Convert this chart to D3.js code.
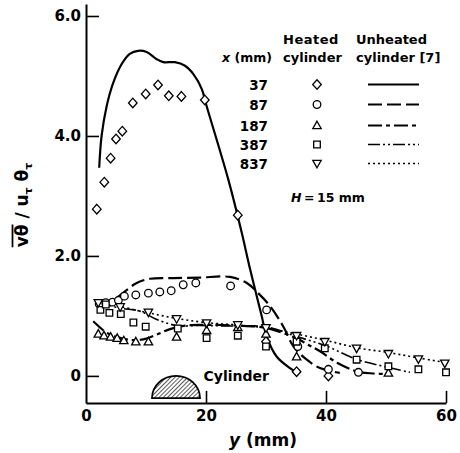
<!DOCTYPE html>
<html><head><meta charset="utf-8">
<script src="https://cdn.jsdelivr.net/npm/d3@7"></script>
<style>
body{margin:0;background:#fff}
svg{display:block}
text{font-family:"DejaVu Sans",sans-serif;font-weight:bold;fill:#000}
</style>
</head><body><svg id="c" width="460" height="453"></svg>
<script>
// ---- data ----
const xTicks = [0, 20, 40, 60];
const xTickLabels = ["0", "20", "40", "60"];
const yTicks = [0, 2, 4, 6];
const yTickLabels = ["0", "2.0", "4.0", "6.0"];
const stations = ["37", "87", "187", "387", "837"];

// heated cylinder (symbols)  [y (mm), value]
const heated37 = [[1.8,2.78],[3.05,3.23],[4.1,3.63],[5.0,3.95],[6.05,4.08],[7.8,4.55],[9.95,4.70],[12.0,4.85],[13.8,4.67],[15.9,4.66],[19.8,4.60],[25.3,2.68],[30.0,0.57],[35.1,0.07],[40.4,0.0]];
const heated87 = [[2.2,1.20],[3.3,1.22],[4.4,1.23],[5.4,1.26],[6.4,1.33],[8.3,1.35],[10.4,1.38],[12.3,1.40],[14.2,1.42],[16.2,1.52],[18.3,1.55],[24.1,1.50],[30.1,1.10],[35.3,0.49],[40.4,0.11],[45.4,0.06]];
const heated187 = [[2.05,0.70],[3.0,0.67],[4.1,0.65],[5.2,0.63],[6.3,0.59],[8.3,0.57],[10.4,0.57],[15.1,0.65],[20.1,0.76],[25.3,0.81],[30.0,0.70],[35.1,0.32],[50.4,0.05]];
const heated387 = [[2.4,1.10],[3.3,1.19],[3.9,1.05],[5.8,1.03],[7.9,0.89],[9.95,0.82],[15.3,0.79],[20.1,0.63],[25.3,0.67],[30.0,0.49],[35.1,0.57],[39.8,0.46],[45.1,0.27],[50.4,0.16],[55.4,0.11],[60.0,0.06]];
const heated837 = [[2.05,1.22],[5.7,1.15],[10.4,1.06],[15.1,0.95],[20.1,0.88],[25.3,0.85],[30.0,0.80],[35.1,0.67],[39.8,0.57],[45.1,0.46],[50.4,0.37],[55.4,0.28],[59.8,0.21]];

// unheated cylinder [7] (curves)
const unheated37 = [[2.2,3.47],[2.6,4.0],[3.45,4.5],[4.55,4.89],[5.95,5.20],[7.3,5.37],[8.7,5.42],[10.1,5.40],[11.8,5.28],[12.9,5.23],[14.8,5.23],[16.5,5.17],[17.9,5.03],[19.3,4.78],[20.1,4.50],[23.7,3.28],[25.95,2.39],[27.3,1.80],[29.3,0.99],[30.1,0.66],[31.8,0.32],[34.0,0.13],[35.1,0.06]];
const unheated87 = [[2.2,1.19],[4.55,1.27],[6.5,1.41],[8.45,1.55],[10.7,1.62],[14.6,1.63],[19,1.64],[24,1.65],[26.8,1.55],[28.7,1.38],[30.7,1.16],[32.9,0.82],[34.6,0.49],[36.8,0.27],[39,0.13],[42.3,0.05]];
const unheated187 = [[1.2,0.91],[2.3,0.81],[3.45,0.72],[5.1,0.65],[7.3,0.60],[9.55,0.61],[11.8,0.69],[14,0.78],[16.8,0.84],[19.6,0.85],[25,0.84],[30,0.80],[35,0.63],[37,0.52],[39,0.41],[42,0.21],[45.3,0.07],[48,0.04],[50.5,0.03]];
const unheated387 = [[2.3,1.22],[5.7,1.13],[9,1.08],[11.8,0.94],[15.1,0.84],[19,0.84],[25,0.83],[30,0.82],[35,0.66],[40,0.50],[45,0.28],[50,0.15],[54,0.06]];
const unheated837 = [[2.0,1.22],[5,1.17],[10,1.06],[15,0.96],[20,0.89],[25,0.85],[30,0.80],[35,0.70],[40.1,0.59],[45.1,0.47],[50.4,0.39],[55.4,0.30],[60.1,0.22]];

// cylinder outline (mm span, value of top/bottom)
const cylinderSpan = [11, 19];
const cylinderLevels = [0.0, -0.37];

// ---- drawing ----
const svg = d3.select("#c");
const x = d3.scaleLinear().domain([0, 60]).range([86, 446]);
const y = d3.scaleLinear().domain([-0.45, 6.2]).range([402.9, 4]);

const heated = [heated37, heated87, heated187, heated387, heated837];
const unheated = [unheated37, unheated87, unheated187, unheated387, unheated837];
const symbols = ["diamond", "circle", "triangle", "square", "tridown"];
const dashes = [null, "14,5", "14,4,4,4", "12,3,2,3,2,3", "2,3"];
const widths = [2.2, 2.2, 2.2, 1.6, 1.6];

// hatch pattern
const defs = svg.append("defs");
const pat = defs.append("pattern").attr("id","hatch").attr("patternUnits","userSpaceOnUse")
  .attr("width",3).attr("height",3).attr("patternTransform","rotate(45)");
pat.append("rect").attr("width",3).attr("height",3).attr("fill","#fff");
pat.append("line").attr("x1",0).attr("y1",0).attr("x2",0).attr("y2",3).attr("stroke","#000").attr("stroke-width",1.3);

// axes
const gx = svg.append("g").attr("transform", `translate(0,${y(-0.45)})`)
  .call(d3.axisBottom(x).tickValues(xTicks).tickSizeInner(-12).tickSizeOuter(0).tickPadding(16).tickFormat((d,i)=>xTickLabels[i]));
const gy = svg.append("g").attr("transform", `translate(${x(0)},0)`)
  .call(d3.axisLeft(y).tickValues(yTicks).tickSizeInner(-13).tickSizeOuter(0).tickPadding(18).tickFormat((d,i)=>yTickLabels[i]));
[gx, gy].forEach(g => {
  g.select(".domain").attr("stroke","#000").attr("stroke-width",2);
  g.selectAll(".tick line").attr("stroke","#000").attr("stroke-width",1.6);
  g.selectAll(".tick text").attr("font-size",15).attr("font-family","DejaVu Sans").attr("font-weight","bold").attr("fill","#000");
});
gx.selectAll(".tick line").filter(d=>d===0).remove();
gx.selectAll(".tick text").attr("dy","0.35em").attr("y",13);
gy.selectAll(".tick text").attr("x",-5);

// cylinder
const cx = x((cylinderSpan[0]+cylinderSpan[1])/2), rx = (x(cylinderSpan[1])-x(cylinderSpan[0]))/2;
const yt = y(cylinderLevels[0]), yb = y(cylinderLevels[1]);
svg.append("path")
  .attr("d", `M${cx-rx},${yb} A${rx},${yb-yt} 0 0 1 ${cx+rx},${yb} Z`)
  .attr("fill","url(#hatch)").attr("stroke","#000").attr("stroke-width",1.8);
svg.append("text").attr("x",x(19.6)).attr("y",y(-0.09)).attr("font-size",14).text("Cylinder");

// curves
const line = d3.line().x(d=>x(d[0])).y(d=>y(d[1])).curve(d3.curveCatmullRom.alpha(0.5));
unheated.forEach((s,i)=>{
  svg.append("path").attr("d", line(s)).attr("fill","none").attr("stroke","#000")
    .attr("stroke-width", widths[i]).attr("stroke-dasharray", dashes[i]);
});

// symbols
function sym(g, type, px, py){
  const s = 4.3;
  if(type==="circle") return g.append("circle").attr("cx",px).attr("cy",py).attr("r",3.8);
  let p;
  if(type==="diamond") p = `M${px},${py-s-0.5}L${px+s},${py}L${px},${py+s+0.5}L${px-s},${py}Z`;
  if(type==="square") p = `M${px-3.3},${py-3.3}h6.6v6.6h-6.6Z`;
  if(type==="triangle") p = `M${px},${py-4.3}L${px+4.2},${py+3.2}L${px-4.2},${py+3.2}Z`;
  if(type==="tridown") p = `M${px},${py+4.3}L${px+4.2},${py-3.2}L${px-4.2},${py-3.2}Z`;
  return g.append("path").attr("d",p);
}
const mg = svg.append("g").attr("fill","#fff").attr("stroke","#000").attr("stroke-width",1.3);
heated.forEach((s,i)=>{
  s.forEach(d=>sym(mg, symbols[i], x(d[0]), y(d[1])));
});

// legend
svg.append("text").attr("x",283).attr("y",44).attr("font-size",13).attr("letter-spacing",0.5).text("Heated");
svg.append("text").attr("x",356).attr("y",44).attr("font-size",13).text("Unheated");
const xl = svg.append("text").attr("x",222).attr("y",62).attr("font-size",12.5);
xl.append("tspan").attr("font-style","italic").text("x");
xl.append("tspan").text(" (mm)");
svg.append("text").attr("x",283).attr("y",62).attr("font-size",13).text("cylinder");
svg.append("text").attr("x",356).attr("y",62).attr("font-size",13).text("cylinder [7]");
const rowsY = [84.5, 104.5, 125.5, 144.5, 163.5];
const lg = svg.append("g").attr("fill","#fff").attr("stroke","#000").attr("stroke-width",1.3);
stations.forEach((st,i)=>{
  svg.append("text").attr("x",268).attr("y",rowsY[i]+5).attr("font-size",13.5).attr("text-anchor","end").text(st);
  sym(lg, symbols[i], 317, rowsY[i]);
  svg.append("line").attr("x1",368).attr("x2",419).attr("y1",rowsY[i]).attr("y2",rowsY[i])
    .attr("stroke","#000").attr("stroke-width",widths[i]).attr("stroke-dasharray",dashes[i]);
});
const ht = svg.append("text").attr("x",291).attr("y",202).attr("font-size",12.5);
ht.append("tspan").attr("font-style","italic").text("H");
ht.append("tspan").text("\u2009=\u200915 mm");

// x label
const xlab = svg.append("text").attr("x",263).attr("y",446).attr("text-anchor","middle").attr("font-size",17);
xlab.append("tspan").attr("font-style","italic").text("y");
xlab.append("tspan").text(" (mm)");

// y label
const yg = svg.append("g").attr("transform","translate(28,205) rotate(-90)");
const yl = yg.append("text").attr("x",0).attr("y",0).attr("font-size",17);
yl.append("tspan").text("vθ");
yl.append("tspan").text(" / u");
yl.append("tspan").attr("font-size",11).attr("dy",4).text("τ");
yl.append("tspan").attr("dy",-4).text(" θ");
yl.append("tspan").attr("font-size",11).attr("dy",4).text("τ");
const total = yl.node().getComputedTextLength();
yl.attr("x",-total/2);
const w = yl.node().getSubStringLength(0,2);
yg.append("line").attr("x1",-total/2).attr("x2",-total/2+w).attr("y1",-15.5).attr("y2",-15.5).attr("stroke","#000").attr("stroke-width",1.8);
</script>
</body></html>
